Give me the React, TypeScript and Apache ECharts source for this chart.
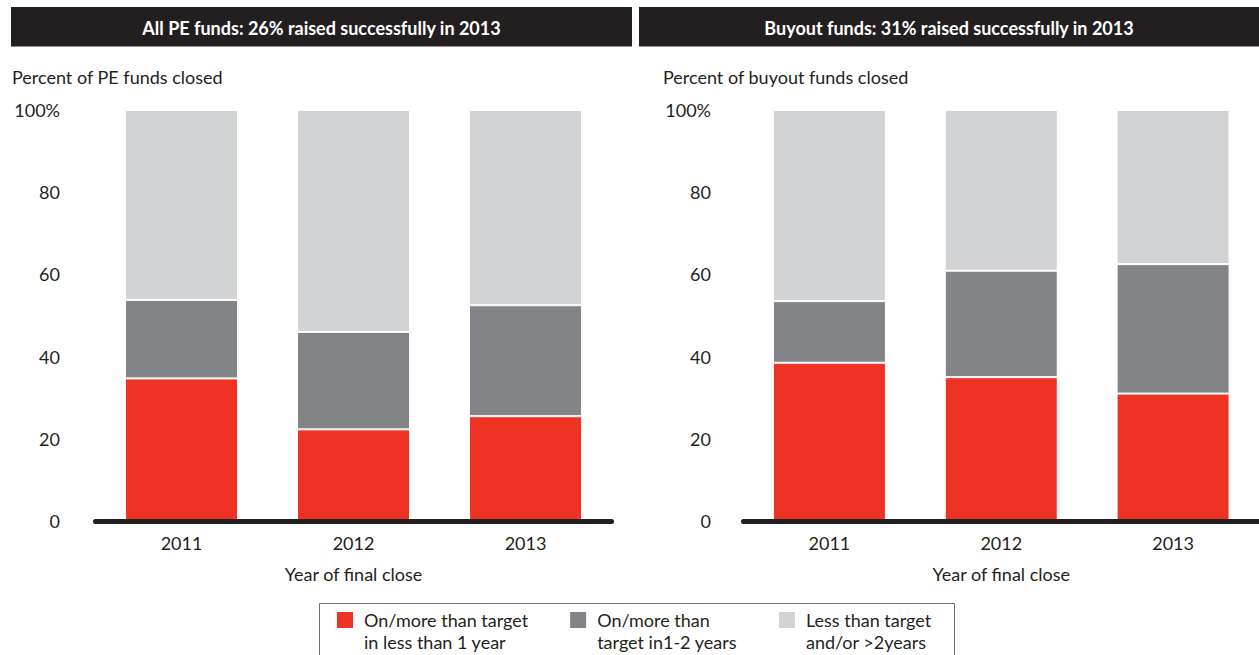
import React, { useEffect, useRef } from "react";
import * as echarts from "echarts";

const years = ["2011", "2012", "2013"];
const seriesNames = [
  "On/more than target\nin less than 1 year",
  "On/more than\ntarget in1-2 years",
  "Less than target\nand/or >2years",
];
const seriesColors = ["#ee3224", "#838488", "#d2d3d5"];

// All PE funds (percent of funds closed)
const peFast = [34.7, 22.3, 25.5];
const peMid = [19.1, 23.7, 27.0];
const peSlow = [46.2, 54.0, 47.5];

// Buyout funds (percent of funds closed)
const boFast = [38.5, 35.0, 31.0];
const boMid = [15.0, 25.9, 31.5];
const boSlow = [46.5, 39.1, 37.5];

const yTicks = [0, 20, 40, 60, 80, 100];

const panelTitles = [
  "All PE funds: 26% raised successfully in 2013",
  "Buyout funds: 31% raised successfully in 2013",
];
const yTitles = ["Percent of PE funds closed", "Percent of buyout funds closed"];
const xTitle = "Year of final close";

const FONT = "Lato, 'Noto Sans', sans-serif";
const DARK = "#231f20";

export default function App() {
  const ref = useRef<HTMLDivElement>(null);

  useEffect(() => {
    if (!ref.current) return;
    const chart = echarts.init(ref.current, undefined, { renderer: "svg" });

    const grids = [
      { left: 95.5, top: 110, width: 516, height: 411 },
      { left: 743.5, top: 110, width: 516, height: 411 },
    ];

    const xAxes = grids.map((_, i) => ({
      type: "category",
      gridIndex: i,
      data: years,
      offset: 2.5,
      z: 10,
      axisLine: { show: true, lineStyle: { color: DARK, width: 5 } },
      axisTick: { show: false },
      axisLabel: { color: DARK, fontSize: 18, fontFamily: FONT, margin: 10 },
      name: xTitle,
      nameLocation: "middle",
      nameGap: 41,
      nameTextStyle: { color: DARK, fontSize: 18, fontFamily: FONT },
    }));

    const yAxes = grids.map((_, i) => ({
      type: "value",
      gridIndex: i,
      min: 0,
      max: 100,
      interval: 20,
      axisLine: { show: false },
      axisTick: { show: false },
      splitLine: { show: false },
      axisLabel: {
        color: DARK,
        fontSize: 18,
        fontFamily: FONT,
        margin: i === 0 ? 35.5 : 32.5,
        formatter: (v: number) => (v === yTicks[yTicks.length - 1] ? v + "%" : String(v)),
      },
    }));

    const panels = [
      [peFast, peMid, peSlow],
      [boFast, boMid, boSlow],
    ];

    const series: any[] = [];
    panels.forEach((panel, pi) => {
      panel.forEach((vals, si) => {
        series.push({
          type: "bar",
          name: seriesNames[si],
          xAxisIndex: pi,
          yAxisIndex: pi,
          stack: "panel" + pi,
          barWidth: 113,
          data: vals,
          itemStyle: { color: seriesColors[si], borderColor: "#ffffff", borderWidth: 1 },
          emphasis: { disabled: true },
        });
      });
    });

    const headerBoxes = [
      { x: 11, w: 621 },
      { x: 639, w: 620 },
    ];
    const yTitleX = [12, 663];

    const graphic: any[] = [];
    headerBoxes.forEach((b, i) => {
      graphic.push({
        type: "rect",
        shape: { x: b.x, y: 7, width: b.w, height: 39.5 },
        style: { fill: DARK },
        silent: true,
      });
      graphic.push({
        type: "text",
        x: b.x + b.w / 2,
        y: 27.5,
        style: {
          text: panelTitles[i],
          fill: "#ffffff",
          font: "bold 18px " + FONT,
          align: "center",
          verticalAlign: "middle",
        },
        silent: true,
      });
      graphic.push({
        type: "text",
        x: yTitleX[i],
        y: 77,
        style: {
          text: yTitles[i],
          fill: DARK,
          font: "18px " + FONT,
          align: "left",
          verticalAlign: "middle",
        },
        silent: true,
      });
    });
    graphic.push({
      type: "rect",
      shape: { x: 319.5, y: 603.5, width: 635, height: 70 },
      style: { fill: "none", stroke: "#6d6e71", lineWidth: 1 },
      silent: true,
    });

    chart.setOption({
      animation: false,
      color: seriesColors,
      grid: grids,
      xAxis: xAxes,
      yAxis: yAxes,
      series,
      legend: {
        data: seriesNames,
        left: 335,
        top: 587,
        padding: 0,
        itemWidth: 18,
        itemHeight: 18,
        itemGap: 40,
        icon: "rect",
        selectedMode: false,
        formatter: (name: string) => "\n" + name,
        textStyle: {
          color: DARK,
          fontSize: 18,
          fontFamily: FONT,
          lineHeight: 22,
          padding: [0, 0, 0, 5],
        },
      },
      graphic,
    });

    return () => chart.dispose();
  }, []);

  return (
    <div
      ref={ref}
      style={{ position: "fixed", left: 0, top: 0, width: 1259, height: 655, background: "#fff" }}
    />
  );
}
